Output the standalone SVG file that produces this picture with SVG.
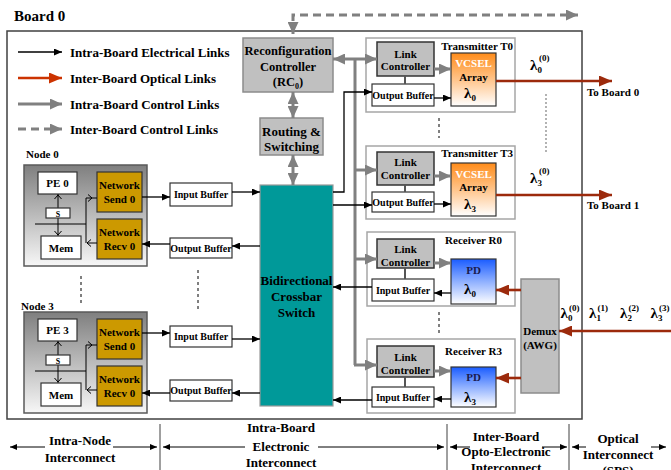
<svg xmlns="http://www.w3.org/2000/svg" width="671" height="470" viewBox="0 0 671 470">
<style>
text{font-family:"Liberation Serif","Times New Roman",serif;font-weight:bold;fill:#000}
.c{text-anchor:middle}
.f13{font-size:13px}.f12{font-size:12.5px}.f11{font-size:11px}.f10{font-size:10px}.f9{font-size:9px}.f15{font-size:15px}
.bk{stroke:#000;stroke-width:1.3;fill:none}
.gr{stroke:#808080;stroke-width:3;fill:none}
.rd{stroke:#9c2a0c;stroke-width:2.6;fill:none}
.thin{stroke:#000;stroke-width:1;fill:none}
.dash{stroke:#000;stroke-width:1;stroke-dasharray:3,3;fill:none}
.gbox{fill:#c0c0c0;stroke:#8c8c8c;stroke-width:1.5}
.lc{fill:#c0c0c0;stroke:#333;stroke-width:1.5}
.wb{fill:#fff;stroke:#333;stroke-width:1.2}
.frame{fill:#fff;stroke:#a6a6a6;stroke-width:1.5}
.net{fill:#cc9900;stroke:#333;stroke-width:1.2}
</style>
<defs>
<marker id="mb" markerUnits="userSpaceOnUse" markerWidth="8" markerHeight="7" refX="8" refY="3.5" orient="auto-start-reverse"><path d="M0,0 L8,3.5 L0,7 z" fill="#000"/></marker>
<marker id="mg" markerUnits="userSpaceOnUse" markerWidth="12" markerHeight="11" refX="12" refY="5.5" orient="auto-start-reverse"><path d="M0,0 L12,5.5 L0,11 z" fill="#808080"/></marker>
<marker id="mr" markerUnits="userSpaceOnUse" markerWidth="13" markerHeight="11" refX="13" refY="5.5" orient="auto"><path d="M0,0 L13,5.5 L0,11 z" fill="#9c2a0c"/></marker>
<marker id="mrl" markerUnits="userSpaceOnUse" markerWidth="13" markerHeight="11" refX="13" refY="5.5" orient="auto"><path d="M0,0 L13,5.5 L0,11 z" fill="#cc3300"/></marker>
<linearGradient id="gv" x1="0" y1="0" x2="0" y2="1"><stop offset="0" stop-color="#ff8c1a"/><stop offset="0.5" stop-color="#ffc48a"/><stop offset="1" stop-color="#ffffff"/></linearGradient>
<linearGradient id="gp" x1="0" y1="0" x2="0" y2="1"><stop offset="0" stop-color="#1a5cff"/><stop offset="0.5" stop-color="#8fb0ff"/><stop offset="1" stop-color="#ffffff"/></linearGradient>
<linearGradient id="gn" x1="0" y1="0" x2="0" y2="1"><stop offset="0" stop-color="#7f7f7f"/><stop offset="1" stop-color="#f7f7f7"/></linearGradient>
</defs>

<text x="14" y="21" style="font-size:15px">Board 0</text>
<rect x="7" y="31" width="575" height="388" fill="#fff" stroke="#404040" stroke-width="1.5"/>

<g id="legend">
<line x1="18" y1="52" x2="62" y2="52" class="bk" marker-end="url(#mb)"/>
<text x="70" y="56.5" class="f13">Intra-Board Electrical Links</text>
<line x1="18" y1="78" x2="62" y2="78" stroke="#cc3300" stroke-width="2.6" marker-end="url(#mrl)"/>
<text x="70" y="82.5" class="f13">Inter-Board Optical Links</text>
<line x1="18" y1="104" x2="62" y2="104" class="gr" marker-end="url(#mg)"/>
<text x="70" y="108.5" class="f13">Intra-Board Control Links</text>
<line x1="18" y1="129" x2="62" y2="129" class="gr" stroke-dasharray="8,5" marker-end="url(#mg)"/>
<text x="70" y="133.5" class="f13">Inter-Board Control Links</text>
</g>

<g id="rc">
<rect x="243" y="38" width="90" height="54" class="gbox"/>
<text x="288" y="55" class="c f12">Reconfiguration</text>
<text x="288" y="71" class="c f12">Controller</text>
<text x="288" y="86" class="c f12">(RC<tspan font-size="8" dy="3">0</tspan><tspan dy="-3">)</tspan></text>
</g>
<g id="routing">
<rect x="260" y="118" width="63" height="37" class="gbox"/>
<text x="291.5" y="136" class="c f13">Routing &amp;</text>
<text x="291.5" y="151" class="c f13">Switching</text>
</g>
<g id="crossbar">
<rect x="260" y="185" width="73" height="221" fill="#009999" stroke="#999" stroke-width="1.2"/>
<text x="296.5" y="285" class="c f13">Bidirectional</text>
<text x="296.5" y="301" class="c f13">Crossbar</text>
<text x="296.5" y="317" class="c f13">Switch</text>
</g>

<g id="node0">
<text x="26" y="158" class="f11">Node 0</text>
<rect x="24" y="165" width="123" height="101" fill="url(#gn)" stroke="#595959" stroke-width="1.5"/>
<rect x="38" y="172" width="39" height="22" class="wb"/>
<text x="57.5" y="187" class="c f11">PE 0</text>
<rect x="97" y="172" width="45" height="40" class="net"/>
<text x="119.5" y="189" class="c f11">Network</text>
<text x="119.5" y="203" class="c f11">Send 0</text>
<rect x="97" y="219" width="45" height="40" class="net"/>
<text x="119.5" y="236" class="c f11">Network</text>
<text x="119.5" y="250" class="c f11">Recv 0</text>
<line x1="58" y1="194" x2="58" y2="236" class="thin"/>
<path d="M54.5,199 L58,195 L61.5,199 M54.5,231 L58,235 L61.5,231" class="thin"/>
<rect x="46" y="208" width="24" height="10" class="wb"/>
<text x="58" y="216.5" class="c" style="font-size:8px">S</text>
<rect x="41" y="236" width="40" height="23" class="wb"/>
<text x="61" y="252" class="c f11">Mem</text>
<path d="M35,224 L86,224 M86,198 L86,243 M86,198 L97,198 M87,243 L97,243" class="thin"/>
<path d="M88,194.5 L92,198 L88,201.5 M91,239.5 L87,243 L91,246.5" class="thin"/>
</g>
<g id="ib0"><rect x="170" y="183" width="62" height="23" class="wb"/><text x="201" y="198" class="c f10">Input Buffer</text></g>
<g id="ob0"><rect x="170" y="238" width="62" height="20" class="wb"/><text x="201" y="252" class="c f10">Output Buffer</text></g>

<g id="node3">
<text x="21" y="310" class="f11">Node 3</text>
<rect x="24" y="312" width="123" height="101" fill="url(#gn)" stroke="#595959" stroke-width="1.5"/>
<rect x="38" y="319" width="39" height="22" class="wb"/>
<text x="57.5" y="334" class="c f11">PE 3</text>
<rect x="97" y="319" width="45" height="40" class="net"/>
<text x="119.5" y="336" class="c f11">Network</text>
<text x="119.5" y="350" class="c f11">Send 0</text>
<rect x="97" y="366" width="45" height="40" class="net"/>
<text x="119.5" y="383" class="c f11">Network</text>
<text x="119.5" y="397" class="c f11">Recv 0</text>
<line x1="58" y1="341" x2="58" y2="383" class="thin"/>
<path d="M54.5,346 L58,342 L61.5,346 M54.5,378 L58,382 L61.5,378" class="thin"/>
<rect x="46" y="355" width="24" height="10" class="wb"/>
<text x="58" y="363.5" class="c" style="font-size:8px">S</text>
<rect x="41" y="383" width="40" height="23" class="wb"/>
<text x="61" y="399" class="c f11">Mem</text>
<path d="M35,371 L86,371 M86,345 L86,390 M86,345 L97,345 M87,390 L97,390" class="thin"/>
<path d="M88,341.5 L92,345 L88,348.5 M91,386.5 L87,390 L91,393.5" class="thin"/>
</g>
<g id="ib3"><rect x="170" y="326" width="62" height="21" class="wb"/><text x="201" y="340" class="c f10">Input Buffer</text></g>
<g id="ob3"><rect x="170" y="380" width="62" height="21" class="wb"/><text x="201" y="394" class="c f10">Output Buffer</text></g>

<g id="tx0">
<rect x="366" y="38" width="149" height="74" class="frame"/>
<text x="513" y="50" class="f11" text-anchor="end">Transmitter T0</text>
<rect x="377" y="42" width="57" height="34" class="lc"/>
<text x="405.5" y="58" class="c f11">Link</text>
<text x="405.5" y="70" class="c f11">Controller</text>
<rect x="372" y="84" width="62" height="22" class="wb"/>
<text x="403" y="99" class="c f10">Output Buffer</text>
<rect x="451" y="53" width="45" height="53" fill="url(#gv)" stroke="#333" stroke-width="1.2"/>
<text x="473.5" y="67" class="c f11" fill="#fff" style="fill:#fff">VCSEL</text>
<text x="473.5" y="81" class="c f11">Array</text>
<text x="470" y="98" class="c f15">λ<tspan font-size="9" dy="3">0</tspan></text>
</g>
<g id="tx3">
<rect x="366" y="146" width="149" height="73" class="frame"/>
<text x="513" y="157" class="f11" text-anchor="end">Transmitter T3</text>
<rect x="377" y="152" width="57" height="33" class="lc"/>
<text x="405.5" y="166" class="c f11">Link</text>
<text x="405.5" y="179" class="c f11">Controller</text>
<rect x="372" y="192" width="62" height="20" class="wb"/>
<text x="403" y="206" class="c f10">Output Buffer</text>
<rect x="451" y="163" width="45" height="53" fill="url(#gv)" stroke="#333" stroke-width="1.2"/>
<text x="473.5" y="178" class="c f11" style="fill:#fff">VCSEL</text>
<text x="473.5" y="191" class="c f11">Array</text>
<text x="470" y="209" class="c f15">λ<tspan font-size="9" dy="3">3</tspan></text>
</g>
<g id="rx0">
<rect x="367" y="232" width="148" height="74" class="frame"/>
<text x="502" y="244" class="f11" text-anchor="end">Receiver R0</text>
<rect x="377" y="239" width="57" height="29" class="lc"/>
<text x="405.5" y="252.5" class="c f11">Link</text>
<text x="405.5" y="265.5" class="c f11">Controller</text>
<rect x="372" y="279" width="62" height="22" class="wb"/>
<text x="403" y="293.5" class="c f10">Input Buffer</text>
<rect x="451" y="259" width="45" height="45" fill="url(#gp)" stroke="#333" stroke-width="1.2"/>
<text x="473.5" y="274" class="c f11" style="fill:#1a1a4d">PD</text>
<text x="470" y="294" class="c f15">λ<tspan font-size="9" dy="3">0</tspan></text>
</g>
<g id="rx3">
<rect x="367" y="339" width="148" height="74" class="frame"/>
<text x="502" y="355" class="f11" text-anchor="end">Receiver R3</text>
<rect x="377" y="346" width="57" height="31" class="lc"/>
<text x="405.5" y="361" class="c f11">Link</text>
<text x="405.5" y="374" class="c f11">Controller</text>
<rect x="372" y="387" width="62" height="20" class="wb"/>
<text x="403" y="401" class="c f10">Input Buffer</text>
<rect x="451" y="367" width="45" height="40" fill="url(#gp)" stroke="#333" stroke-width="1.2"/>
<text x="473.5" y="381" class="c f11" style="fill:#1a1a4d">PD</text>
<text x="470" y="402" class="c f15">λ<tspan font-size="9" dy="3">3</tspan></text>
</g>
<g id="demux">
<rect x="521" y="279" width="38" height="114" class="gbox" stroke="#404040"/>
<text x="540" y="335" class="c f11">Demux</text>
<text x="540" y="349" class="c f11">(AWG)</text>
</g>

<g id="labels">
<text x="530" y="70" class="f15">λ<tspan font-size="9" dy="3">0</tspan></text>
<text x="539" y="61" class="f9">(0)</text>
<text x="530" y="183" class="f15">λ<tspan font-size="9" dy="3">3</tspan></text>
<text x="539" y="174" class="f9">(0)</text>
<text x="587" y="96" class="f11">To Board 0</text>
<text x="587" y="209" class="f11">To Board 1</text>
<text x="560.5" y="318" class="f15">λ<tspan font-size="9" dy="3">0</tspan></text>
<text x="569" y="311" class="f9">(0)</text>
<text x="589" y="318" class="f15">λ<tspan font-size="9" dy="3">1</tspan></text>
<text x="597.5" y="311" class="f9">(1)</text>
<text x="620" y="318" class="f15">λ<tspan font-size="9" dy="3">2</tspan></text>
<text x="628.5" y="311" class="f9">(2)</text>
<text x="650.5" y="318" class="f15">λ<tspan font-size="9" dy="3">3</tspan></text>
<text x="659" y="311" class="f9">(3)</text>
</g>

<g id="connectors">
<path d="M293,34 L293,15 L578,15" class="gr" stroke-width="2.5" stroke-dasharray="8,5" marker-start="url(#mg)" marker-end="url(#mg)"/>
<line x1="293" y1="92" x2="293" y2="118" class="gr" marker-start="url(#mg)" marker-end="url(#mg)"/>
<line x1="293" y1="155" x2="293" y2="185" class="gr" marker-start="url(#mg)" marker-end="url(#mg)"/>
<line x1="333" y1="59" x2="377" y2="59" class="gr" marker-start="url(#mg)" marker-end="url(#mg)"/>
<path d="M355,59 L355,365" class="gr" stroke-width="2.5"/>
<line x1="355" y1="170" x2="377" y2="170" class="gr" marker-end="url(#mg)"/>
<line x1="355" y1="259" x2="377" y2="259" class="gr" marker-end="url(#mg)"/>
<line x1="354" y1="365" x2="377" y2="365" class="gr" marker-end="url(#mg)"/>
<line x1="434" y1="69" x2="451" y2="69" class="gr" marker-end="url(#mg)"/>
<line x1="434" y1="176" x2="451" y2="176" class="gr" marker-end="url(#mg)"/>
<line x1="434" y1="263" x2="451" y2="263" class="gr" marker-end="url(#mg)"/>
<line x1="434" y1="371" x2="451" y2="371" class="gr" marker-end="url(#mg)"/>
<path d="M405,76 L405,84 M405,185 L405,192 M405,268 L405,279 M405,377 L405,387" stroke="#555" stroke-width="2"/>

<path d="M333,192 L344,192 L344,92 L372,92" class="bk" marker-end="url(#mb)"/>
<line x1="333" y1="205" x2="372" y2="205" class="bk" marker-end="url(#mb)"/>
<line x1="434" y1="98" x2="451" y2="98" class="bk" marker-end="url(#mb)"/>
<line x1="434" y1="204" x2="451" y2="204" class="bk" marker-end="url(#mb)"/>
<line x1="451" y1="293" x2="434" y2="293" class="bk" marker-end="url(#mb)"/>
<line x1="451" y1="399" x2="434" y2="399" class="bk" marker-end="url(#mb)"/>
<line x1="372" y1="287" x2="333" y2="287" class="bk" marker-end="url(#mb)"/>
<line x1="372" y1="400" x2="333" y2="400" class="bk" marker-end="url(#mb)"/>
<line x1="142" y1="197" x2="170" y2="197" class="bk" marker-end="url(#mb)"/>
<line x1="232" y1="192" x2="260" y2="192" class="bk" marker-end="url(#mb)"/>
<line x1="260" y1="246" x2="232" y2="246" class="bk" marker-end="url(#mb)"/>
<line x1="170" y1="244" x2="142" y2="244" class="bk" marker-end="url(#mb)"/>
<line x1="142" y1="333" x2="170" y2="333" class="bk" marker-end="url(#mb)"/>
<line x1="232" y1="339" x2="260" y2="339" class="bk" marker-end="url(#mb)"/>
<line x1="260" y1="393" x2="232" y2="393" class="bk" marker-end="url(#mb)"/>
<line x1="170" y1="393" x2="142" y2="393" class="bk" marker-end="url(#mb)"/>

<line x1="496" y1="81" x2="612" y2="81" class="rd" marker-end="url(#mr)"/>
<line x1="496" y1="195" x2="612" y2="195" class="rd" marker-end="url(#mr)"/>
<line x1="521" y1="290" x2="496" y2="290" class="rd" marker-end="url(#mr)"/>
<line x1="521" y1="378" x2="496" y2="378" class="rd" marker-end="url(#mr)"/>
<line x1="671" y1="331" x2="559" y2="331" class="rd" marker-end="url(#mr)"/>

<path d="M81,276 L81,304 M198,270 L198,310 M439,118 L439,138 M439,312 L439,333" class="dash"/>
<path d="M546,94 L546,153" stroke="#808080" stroke-width="1.2" stroke-dasharray="2,2"/>
</g>

<g id="scale">
<path d="M160,424 L160,470 M447,424 L447,470 M569,424 L569,470" stroke="#404040" stroke-width="1"/>
<path d="M10,447 L45,447 M113,447 L157,447 M163,447 L245,447 M318,447 L444,447 M450,447 L470,447 M542,447 L567,447 M572,447 L586,447 M651,447 L666,447" class="thin"/>
<path d="M10,447 L17,444 L17,450 z M157,447 L150,444 L150,450 z M163,447 L170,444 L170,450 z M444,447 L437,444 L437,450 z M450,447 L457,444 L457,450 z M567,447 L560,444 L560,450 z M572,447 L579,444 L579,450 z M666,447 L659,444 L659,450 z" fill="#000"/>
<text x="80" y="445" class="c f13">Intra-Node</text>
<text x="80" y="462" class="c f13">Interconnect</text>
<text x="281" y="432" class="c f13">Intra-Board</text>
<text x="281" y="451" class="c f13">Electronic</text>
<text x="281" y="467" class="c f13">Interconnect</text>
<text x="506" y="441" class="c f13">Inter-Board</text>
<text x="506" y="456" class="c f13">Opto-Electronic</text>
<text x="506" y="472" class="c f13">Interconnect</text>
<text x="618" y="443" class="c f13">Optical</text>
<text x="618" y="459" class="c f13">Interconnect</text>
<text x="618" y="475" class="c f13">(SPS)</text>
</g>
</svg>
